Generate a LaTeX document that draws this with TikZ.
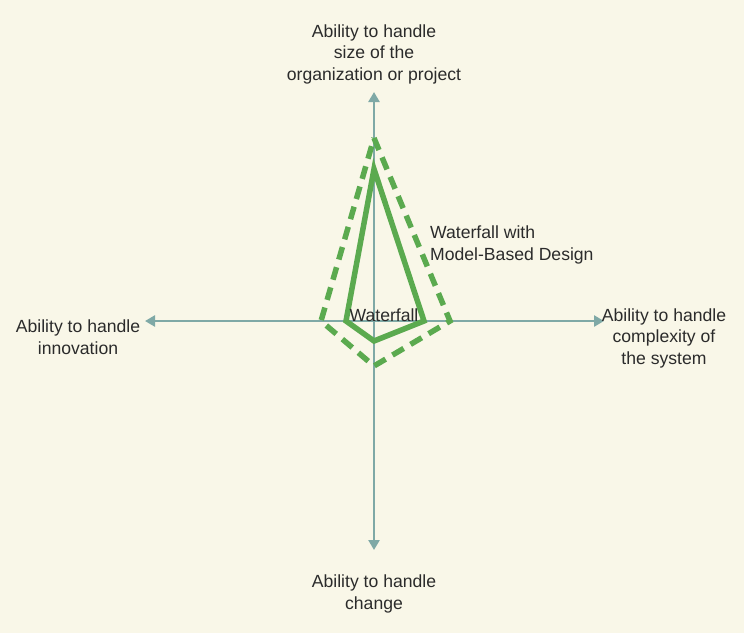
\documentclass[tikz,border=0pt]{standalone}
\usepackage{fontspec}
\setmainfont{Liberation Sans}
\usetikzlibrary{arrows.meta,positioning}
\definecolor{paper}{HTML}{F9F7E8}
\definecolor{axiscol}{HTML}{7FA9A6}
\definecolor{wfgreen}{HTML}{5BAA4F}
\definecolor{txt}{HTML}{2B2B2B}

\begin{document}
\begin{tikzpicture}[x=1pt,y=-1pt,
    axis/.style={draw=axiscol,line width=2.8pt,
      {Triangle[width=11pt,length=10pt]}-{Triangle[width=11pt,length=10pt]}},
    plain/.style={draw=wfgreen,line width=5.5pt,line join=miter},
    model/.style={plain,dash pattern=on 13pt off 8pt},
    lbl/.style={align=center,text=txt,font=\fontsize{17.6}{21.5}\selectfont,inner sep=0pt},
    tag/.style={lbl,align=left}]
  \fill[paper] (0,0) rectangle (744,633);
  \useasboundingbox (0,0) rectangle (744,633);
  % axes
  \coordinate (c) at (374,321);
  \coordinate (up) at (374,92);
  \coordinate (down) at (374,550);
  \coordinate (lft) at (145,321);
  \coordinate (rgt) at (604,321);
  \draw[axis] (lft) -- (rgt);
  \draw[axis] (down) -- (up);
  % waterfall with model-based design
  \coordinate (m_t) at (374,138);
  \coordinate (m_r) at (450,321);
  \coordinate (m_b) at (374,366);
  \coordinate (m_l) at (321,321);
  \draw[model] (m_t) -- (m_r) -- (m_b) -- (m_l) -- cycle;
  % waterfall
  \coordinate (w_t) at (374,169);
  \coordinate (w_r) at (424,321);
  \coordinate (w_b) at (374,341);
  \coordinate (w_l) at (346,321);
  \draw[plain] (w_t) -- (w_r) -- (w_b) -- (w_l) -- cycle;
  % labels
  \node[lbl] (size) at (374,54) {Ability to handle\\size of the\\organization or project};
  \node[lbl] (cplx) at (664,338) {Ability to handle\\complexity of\\the system};
  \node[lbl] (innov) at (78,337) {Ability to handle\\innovation};
  \node[lbl] (chg) at (374,594) {Ability to handle\\change};
  \node[tag,anchor=west] (mbd) at (430,245) {Waterfall with\\Model-Based Design};
  \node[lbl] (wf) at (384,315) {Waterfall};
\end{tikzpicture}
\end{document}
